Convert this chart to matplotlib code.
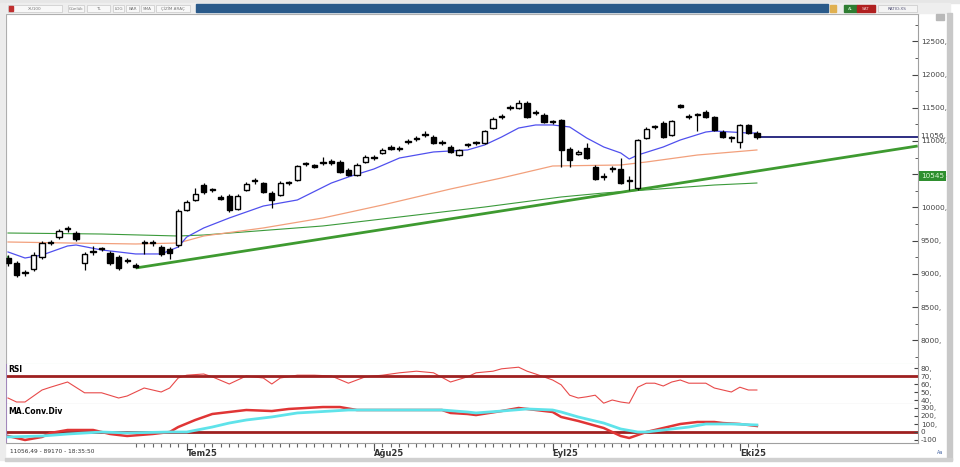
import matplotlib.pyplot as plt
import numpy as np
from matplotlib.patches import Rectangle

# daily candles (open, high, low, close)
opens = [9240, 9165, 9015, 9075, 9255, 9466, 9556, 9676, 9616, 9165,
         9331, 9376, 9316, 9255, 9195, 9135, 9466, 9466, 9406, 9376,
         9436, 9962, 10113, 10338, 10263, 10158, 10173, 9977, 10263, 10398,
         10368, 10218, 10188, 10368, 10413, 10654, 10639, 10669, 10699, 10684,
         10564, 10489, 10684, 10744, 10820, 10910, 10880, 10985, 11030, 11090,
         11060, 10970, 10910, 10789, 10940, 10970, 10970, 11195, 11361, 11496,
         11496, 11572, 11421, 11391, 11286, 11316, 10880, 10804, 10895, 10609,
         10459, 10579, 10579, 10398, 10293, 11045, 11211, 11271, 11090, 11541,
         11361, 11391, 11436, 11361, 11135, 11045, 10985, 11241, 11120]
highs = [9285, 9195, 9060, 9331, 9496, 9511, 9676, 9722, 9646, 9331,
         9421, 9406, 9346, 9285, 9240, 9165, 9511, 9511, 9436, 9406,
         9977, 10113, 10293, 10368, 10293, 10188, 10203, 10203, 10383, 10444,
         10383, 10248, 10398, 10398, 10639, 10684, 10654, 10759, 10729, 10714,
         10594, 10669, 10789, 10789, 10895, 10940, 10925, 11030, 11075, 11150,
         11090, 11015, 10940, 10880, 10970, 11000, 11165, 11361, 11406, 11541,
         11617, 11602, 11466, 11421, 11316, 11331, 10910, 10865, 10970, 10639,
         10519, 10624, 10744, 10474, 11030, 11211, 11241, 11301, 11316, 11556,
         11406, 11421, 11466, 11376, 11165, 11075, 11256, 11256, 11150]
lows = [9120, 8955, 8970, 9045, 9225, 9436, 9526, 9631, 9496, 9060,
        9285, 9346, 9135, 9060, 9165, 9090, 9301, 9421, 9270, 9225,
        9406, 9947, 10098, 10203, 10233, 10113, 9932, 9962, 10248, 10353,
        10218, 9992, 10173, 10338, 10398, 10624, 10594, 10639, 10639, 10519,
        10474, 10474, 10669, 10714, 10804, 10865, 10850, 10955, 11000, 11060,
        10955, 10940, 10820, 10774, 10910, 10940, 10955, 11180, 11331, 11466,
        11481, 11346, 11391, 11271, 11256, 10609, 10609, 10789, 10729, 10413,
        10413, 10534, 10353, 10263, 10263, 11030, 11180, 11045, 11075, 11496,
        11331, 11150, 11346, 11150, 11045, 10985, 10895, 11105, 11030]
closes = [9165, 8985, 9020, 9285, 9466, 9470, 9646, 9680, 9526, 9301,
          9335, 9380, 9165, 9090, 9200, 9105, 9470, 9470, 9301, 9316,
          9947, 10083, 10203, 10233, 10268, 10128, 9962, 10173, 10353, 10403,
          10233, 10113, 10368, 10373, 10624, 10659, 10609, 10674, 10669, 10534,
          10489, 10639, 10759, 10749, 10865, 10880, 10885, 10990, 11035, 11095,
          10970, 10975, 10835, 10865, 10945, 10975, 11150, 11331, 11366, 11501,
          11572, 11361, 11426, 11286, 11291, 10865, 10714, 10835, 10744, 10428,
          10464, 10584, 10368, 10403, 11015, 11180, 11216, 11060, 11301, 11511,
          11366, 11396, 11361, 11165, 11060, 11050, 11241, 11120, 11056]

# moving averages (bar index, value)
ma_fast_idx = [0, 2, 4, 7, 8, 11, 15, 18, 20, 21, 23, 26, 30, 34, 38, 40, 43, 46, 50,
               54, 56, 58, 60, 62, 64, 66, 68, 70, 72, 73, 74, 77, 79, 82, 83, 87, 88]
ma_fast_val = [9331, 9240, 9285, 9421, 9436, 9361, 9301, 9301, 9406, 9556, 9692, 9842,
               10022, 10113, 10368, 10459, 10579, 10744, 10835, 10865, 10940, 11060,
               11195, 11241, 11241, 11211, 11045, 10910, 10820, 10729, 10789, 10910,
               11015, 11135, 11150, 11120, 11120]
ma_mid_idx = [0, 7, 15, 20, 23, 30, 37, 44, 52, 58, 64, 72, 75, 81, 88]
ma_mid_val = [9481, 9466, 9451, 9466, 9571, 9692, 9842, 10037, 10278, 10444, 10624,
              10639, 10684, 10789, 10865]
ma_slow_idx = [0, 11, 20, 23, 37, 44, 56, 65, 70, 83, 88]
ma_slow_val = [9616, 9601, 9571, 9586, 9722, 9827, 10007, 10158, 10218, 10338, 10368]

trend_idx = [15, 106.9]
trend_val = [9090, 10925]
trend_now = 10545

rsi_idx = [0, 1, 2, 4, 5, 7, 9, 11, 13, 14, 16, 18, 19, 20, 21, 23, 24, 26, 28, 30, 31,
           32, 34, 36, 38, 40, 42, 44, 46, 48, 50, 52, 54, 55, 57, 58, 60, 61, 62, 64,
           65, 66, 67, 68, 69, 70, 71, 72, 73, 74, 75, 76, 77, 78, 79, 80, 82, 83, 85,
           86, 87, 88]
rsi_val = [42.5, 37.5, 37.5, 52.5, 56, 62.5, 49, 49, 42.5, 45, 55, 50, 55, 67.5, 71,
           72.5, 69, 60, 70, 67.5, 60, 67.5, 71, 71, 70, 61, 69, 71, 74, 76, 74, 62.5,
           69, 74, 76, 79, 81, 76, 72.5, 65, 59, 46, 42.5, 44, 46, 36, 40, 37.5, 36,
           56, 61, 61, 57.5, 62.5, 65, 61, 61, 55, 50, 56, 52.5, 52.5]

macd_idx = [0, 2, 4, 5, 7, 10, 11, 12, 14, 17, 19, 20, 22, 24, 26, 28, 31, 33, 35, 37,
            39, 41, 46, 51, 52, 54, 55, 58, 60, 61, 64, 65, 67, 70, 71, 72, 73, 74, 75,
            77, 79, 81, 83, 84, 86, 88]
macd_val = [-50, -100, -62, -12, 25, 25, 0, -25, -50, -25, 0, 62, 150, 225, 250, 275,
            262, 288, 300, 312, 312, 275, 275, 275, 238, 225, 212, 262, 300, 288, 250,
            188, 138, 50, 0, -50, -75, -38, 0, 50, 100, 125, 125, 112, 100, 75]
signal_idx = [0, 4, 7, 11, 14, 19, 21, 24, 26, 28, 31, 34, 38, 40, 46, 51, 54, 55, 58,
              61, 64, 65, 67, 70, 72, 74, 75, 77, 80, 82, 85, 88]
signal_val = [-62, -50, -25, 0, -12, 0, 0, 62, 112, 150, 188, 238, 262, 275, 275, 275,
              250, 238, 262, 288, 275, 250, 188, 112, 38, 0, 0, 25, 62, 100, 100, 88]

month_labels = ['Tem25', 'Ağu25', 'Eyl25', 'Eki25']
month_pos = [21, 43, 64, 86]

W, H = 960, 467
STEP = 8.51


def rect(x0, y0, x1, y1):
    return [x0 / W, 1 - y1 / H, (x1 - x0) / W, (y1 - y0) / H]


def box(x0, y0, x1, y1, **kw):
    fig.add_artist(Rectangle((x0 / W, 1 - y1 / H), (x1 - x0) / W, (y1 - y0) / H,
                             transform=fig.transFigure, **kw))


def ftext(x, y, s, **kw):
    fig.text(x / W, 1 - y / H, s, **kw)


fig = plt.figure(figsize=(9.6, 4.67), dpi=100)
fig.patch.set_facecolor('white')

xmin = (6 - 8) / STEP
xmax = (918 - 8) / STEP

ax = fig.add_axes(rect(6, 14, 918, 364))
ax_rsi = fig.add_axes(rect(6, 364, 918, 404), sharex=ax)
ax_macd = fig.add_axes(rect(6, 404, 918, 443), sharex=ax)

# candles
x = np.arange(len(closes))
o = np.array(opens)
c = np.array(closes)
up = c >= o
ax.vlines(x, lows, highs, color='black', lw=0.9, zorder=3)
body = np.maximum(np.abs(c - o), 14)
ax.bar(x[up], body[up], bottom=np.minimum(o, c)[up], width=0.62,
       facecolor='white', edgecolor='black', linewidth=1.0, zorder=4)
ax.bar(x[~up], body[~up], bottom=np.minimum(o, c)[~up], width=0.62,
       facecolor='black', edgecolor='black', linewidth=1.0, zorder=4)

ax.plot(ma_slow_idx, ma_slow_val, color='#3b9a3b', lw=0.8, zorder=2)
ax.plot(ma_mid_idx, ma_mid_val, color='#f2a07c', lw=0.9, zorder=2)
ax.plot(ma_fast_idx, ma_fast_val, color='#5050ee', lw=0.9, zorder=2)
ax.plot(trend_idx, trend_val, color='#3e9a30', lw=2.0, zorder=2,
        solid_capstyle='butt')
ax.hlines(closes[-1], x[-1] + 0.3, xmax, color='#1c1c78', lw=1.3, zorder=2)

ax.set_xlim(xmin, xmax)
ax.set_ylim(7646, 12910)
ax.yaxis.tick_right()
ax.set_yticks(np.arange(8000, 12501, 500))
ax.set_yticks(np.arange(7750, 12800, 250), minor=True)
ax.set_yticklabels(['%d,' % v for v in np.arange(8000, 12501, 500)])
ax.tick_params(axis='y', which='both', direction='in', labelsize=5.4,
               colors='#444444', pad=2)
ax.tick_params(axis='y', which='major', length=4)
ax.tick_params(axis='y', which='minor', length=2)
ax.tick_params(axis='x', bottom=False, labelbottom=False)
for sp in ['left', 'top', 'right']:
    ax.spines[sp].set_color('#a0a0a0')
ax.spines['bottom'].set_color('#b8e0b8')
ax.text(1.0025, closes[-1] + 25, '%d,' % closes[-1], transform=ax.get_yaxis_transform(),
        fontsize=5.4, color='#444444', va='center', ha='left')
ax.text(1.003, trend_now - 75, str(trend_now), transform=ax.get_yaxis_transform(),
        fontsize=5.2, color='#d8f5d0', va='center', ha='left',
        bbox=dict(boxstyle='square,pad=0.25', fc='#2f8f2f', ec='none'))
ax.add_patch(Rectangle((-0.25, 9180), 0.25, 90, color='#50c050', clip_on=False))

# RSI
ax_rsi.plot(rsi_idx, rsi_val, color='#e84a4a', lw=0.8)
ax_rsi.axhline(70, color='#9e2020', lw=2.0)
ax_rsi.set_ylim(35, 85)
ax_rsi.yaxis.tick_right()
ax_rsi.set_yticks([40, 50, 60, 70, 80])
ax_rsi.set_yticklabels(['40,', '50,', '60,', '70,', '80,'])
ax_rsi.tick_params(axis='y', direction='in', length=3, labelsize=5.2,
                   colors='#444444', pad=2)
ax_rsi.tick_params(axis='x', bottom=False, labelbottom=False)
for sp in ax_rsi.spines.values():
    sp.set_color('#a0a0a0')
ax_rsi.spines['top'].set_visible(False)
ax_rsi.spines['left'].set_color('#9070b0')
ax_rsi.text(0.002, 0.86, 'RSI', transform=ax_rsi.transAxes, fontsize=5.5,
            fontweight='bold', va='center')

# MACD
ax_macd.axhline(0, color='#9e2020', lw=2.0, zorder=1)
ax_macd.plot(macd_idx, macd_val, color='#e03535', lw=1.8, zorder=2)
ax_macd.plot(signal_idx, signal_val, color='#5fe3ea', lw=2.0, zorder=3)
ax_macd.set_ylim(-137.5, 350)
ax_macd.yaxis.tick_right()
ax_macd.set_yticks([-100, 0, 100, 200, 300])
ax_macd.set_yticklabels(['-100', '0', '100,', '200,', '300,'])
ax_macd.tick_params(axis='y', direction='in', length=3, labelsize=5.2,
                    colors='#444444', pad=2)
ax_macd.set_xticks(np.arange(15, len(closes)))
ax_macd.tick_params(axis='x', direction='out', length=3, width=0.8,
                    colors='#666666', labelbottom=False)
for sp in ax_macd.spines.values():
    sp.set_color('#a0a0a0')
ax_macd.spines['top'].set_visible(False)
ax_macd.spines['left'].set_color('#9070b0')
ax_macd.text(0.002, 0.8, 'MA.Conv.Div', transform=ax_macd.transAxes, fontsize=5.5,
             fontweight='bold', va='center')
for lab, pos in zip(month_labels, month_pos):
    ax_macd.plot([pos, pos], [-137.5, -230], color='#555555', lw=0.8, clip_on=False)
    ax_macd.text(pos, -275, lab, fontsize=6, fontweight='bold', color='#333333',
                 ha='left', va='center', clip_on=False)
ax_macd.text(0.004, -0.2, '11056,49 - 89170 - 18:35:50', transform=ax_macd.transAxes,
             fontsize=4.2, color='#333333', va='center',
             bbox=dict(boxstyle='square,pad=0.3', fc='white', ec='none'))

# window frame and toolbar
box(0, 0, W, 3, color='#e6e6e6')
box(6, 3, 950, 13, color='#eeeeee')
box(196, 4, 828, 12, color='#2a5a8a')
tool_boxes = [(8, 62, 'XU100'), (68, 84, 'Günlük'), (87, 110, 'TL'),
              (113, 124, 'LOG'), (126, 139, 'BAR'), (141, 154, 'SMA'),
              (156, 190, 'ÇİZİM ARAÇ')]
for x0, x1, s in tool_boxes:
    box(x0, 5, x1, 12, fc='#f8f8f8', ec='#c8c8c8', lw=0.5)
    ftext((x0 + x1) / 2, 8.6, s, fontsize=3, color='#777777', ha='center', va='center')
box(9, 6, 13, 11, color='#c03030')
box(844, 5, 857, 12, color='#2e7d32')
ftext(850.5, 8.6, 'AL', fontsize=3, color='#c8f0c8', ha='center', va='center')
box(857, 5, 875, 12, color='#b02020')
ftext(866, 8.6, 'SAT', fontsize=3, color='#f4c8c8', ha='center', va='center')
box(878, 5, 917, 12, fc='#f4f4f4', ec='#c8c8c8', lw=0.5)
ftext(897, 8.6, 'RATIO:XS', fontsize=3, color='#555577', ha='center', va='center')
box(830, 5, 836, 12, color='#e0b050')
box(936, 14, 944, 20, color='#b8b8b8')
box(947, 13, 952, 460, color='#c8c8c8')
box(0, 3, 5, 460, color='#ececec')
box(5, 458, 952, 461, color='#d0d0d0')
ftext(940, 452, 'Aa', fontsize=3.5, color='#4060a0', ha='center', va='center')

fig.savefig('out.png', dpi=100)
